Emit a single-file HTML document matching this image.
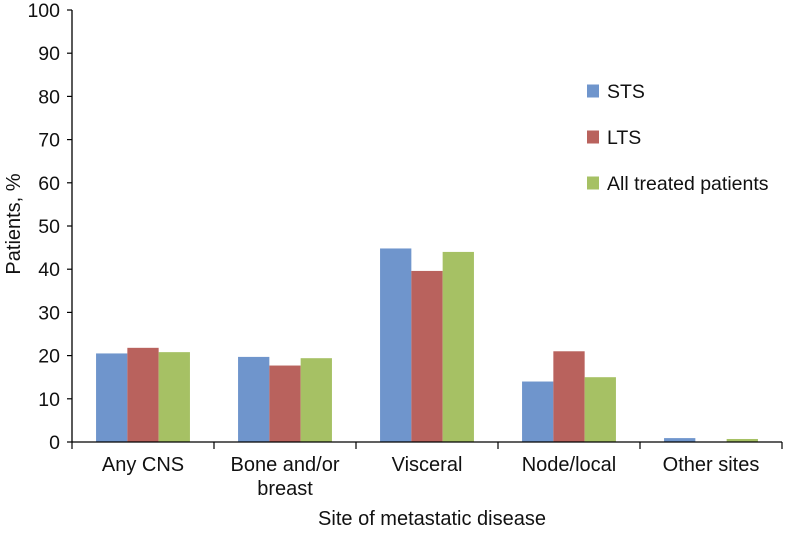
<!DOCTYPE html>
<html><head><meta charset="utf-8"><style>
body{margin:0;background:#fff;}
svg text{font-family:"Liberation Sans",Arial,sans-serif;fill:#111;}
</style></head><body>
<svg width="785" height="530" viewBox="0 0 785 530">
<g id="plot"></g>
</svg>
<script>
const categories=["Any CNS","Bone and/or|breast","Visceral","Node/local","Other sites"];
const stsValues=[20.5,19.7,44.8,14.0,0.9];
const ltsValues=[21.8,17.7,39.6,21.0,0];
const allValues=[20.8,19.4,44.0,15.0,0.7];
const yTicks=[0,10,20,30,40,50,60,70,80,90,100];
const seriesNames=["STS","LTS","All treated patients"];
const colors=["#6f95cc","#b9625d","#a6c164"];
const series=[stsValues,ltsValues,allValues];
const NS="http://www.w3.org/2000/svg";
const g=document.getElementById('plot');
const x0=72,x1=782,y0=442,y100=10;
const ys=v=>y0-(v/100)*(y0-y100);
const bandW=(x1-x0)/categories.length;
const barW=31.3;
function el(t,a,txt){const e=document.createElementNS(NS,t);for(const k in a)e.setAttribute(k,a[k]);if(txt!==undefined)e.textContent=txt;g.appendChild(e);return e;}
series.forEach((s,si)=>{s.forEach((v,ci)=>{
 const cx=x0+bandW*(ci+0.5);
 const r=el('rect',{x:cx-1.5*barW+si*barW,y:ys(v),width:barW,height:y0-ys(v),fill:colors[si]});
 
 
});});
let a=el('line',{x1:x0,y1:y100,x2:x0,y2:y0,stroke:'#000','stroke-width':1.3});

a=el('line',{x1:x0,y1:y0,x2:x1,y2:y0,stroke:'#000','stroke-width':1.3});

yTicks.forEach(t=>{
 el('line',{x1:x0-5,y1:ys(t),x2:x0,y2:ys(t),stroke:'#000','stroke-width':1.2});
 const tx=el('text',{x:x0-12,y:ys(t)+7,'text-anchor':'end','font-size':19.5},String(t));
 
});
for(let i=0;i<=categories.length;i++){const x=x0+bandW*i;el('line',{x1:x,y1:y0,x2:x,y2:y0+7,stroke:'#000','stroke-width':1.2});}
categories.forEach((c,i)=>{
 const cx=x0+bandW*(i+0.5);
 c.split('|').forEach((ln,j)=>{
  const t=el('text',{x:cx,y:471+j*24,'text-anchor':'middle','font-size':20},ln);
  
 });
});
let t=el('text',{x:432,y:525,'text-anchor':'middle','font-size':20},'Site of metastatic disease');

t=el('text',{x:0,y:0,'text-anchor':'middle','font-size':20,transform:'translate(20,224) rotate(-90)'},'Patients, %');

const ly=[91,137,183];
seriesNames.forEach((n,i)=>{
 const r=el('rect',{x:587,y:ly[i]-6.5,width:12,height:13,fill:colors[i]});
 
 const tt=el('text',{x:607,y:ly[i]+7,'font-size':19.5},n);
 
});
</script>
</body></html>
